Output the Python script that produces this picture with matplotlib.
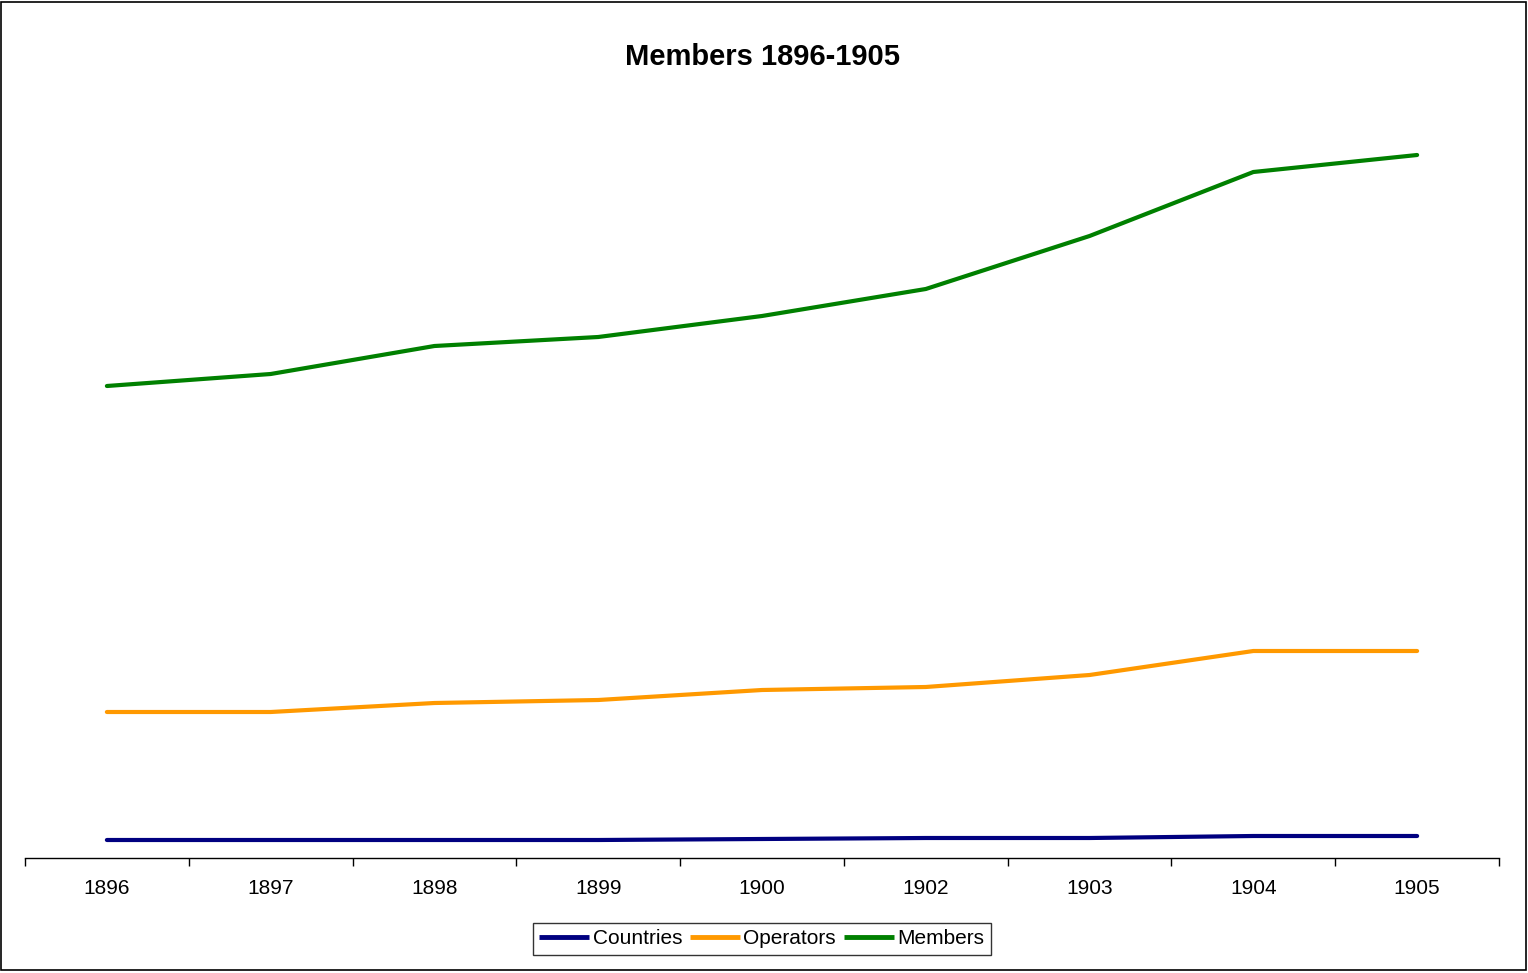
import matplotlib
matplotlib.use("Agg")
import matplotlib.pyplot as plt
from matplotlib.patches import Rectangle

years = ["1896", "1897", "1898", "1899", "1900", "1902", "1903", "1904", "1905"]
countries = [90, 90, 90, 90, 95, 100, 100, 110, 110]
operators = [730, 730, 775, 790, 840, 855, 915, 1035, 1035]
members = [2360, 2420, 2560, 2605, 2710, 2845, 3110, 3430, 3515]

plt.rcParams['font.family'] = ['Liberation Sans', 'DejaVu Sans']

fig = plt.figure(figsize=(15.28, 9.73), dpi=100)
ax = fig.add_axes([25/1528, 115/973, (1499-25)/1528, (858-98)/973])

x = list(range(len(years)))
ax.plot(x, countries, color='#000080', lw=3, label='Countries', solid_capstyle='round')
ax.plot(x, operators, color='#FF9900', lw=3, label='Operators', solid_capstyle='round')
ax.plot(x, members, color='#008000', lw=3, label='Members', solid_capstyle='round')

ax.set_xlim(-0.5, len(years) - 0.5)
ax.set_ylim(0, 3800)
for s in ['top', 'right', 'left']:
    ax.spines[s].set_visible(False)
ax.spines['bottom'].set_linewidth(1)
ax.set_yticks([])
ax.set_xticks([i - 0.5 for i in range(len(years) + 1)], minor=False)
ax.set_xticklabels([])
ax.tick_params(axis='x', direction='out', length=6, width=1)
ax.set_xticks(x, minor=True)
ax.set_xticklabels(years, minor=True, fontsize=15)
ax.tick_params(axis='x', which='minor', length=0, pad=15)

fig.text(0.499, 1 - 57/973, 'Members 1896-1905', ha='center', va='center',
         fontsize=21, fontweight='bold')

leg = fig.legend(loc='center', bbox_to_anchor=(762/1528, 1 - 939/973), ncol=3,
                 fontsize=15, frameon=True, fancybox=False, handlelength=2.4,
                 handletextpad=0.15, columnspacing=0.4, borderpad=0.3,
                 borderaxespad=0)
leg.get_frame().set_edgecolor('black')
leg.get_frame().set_linewidth(1)
for h in leg.get_lines():
    h.set_linewidth(3.5)
    h.set_solid_capstyle('butt')

fig.patches.append(Rectangle((1/1528, 3/973), 1525/1528, 968/973,
                             transform=fig.transFigure, fill=False,
                             edgecolor='black', lw=1.2))

fig.savefig('out.png', dpi=100)
